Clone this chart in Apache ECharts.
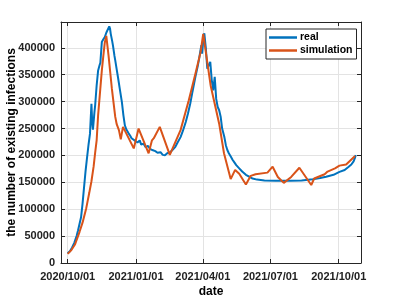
<!DOCTYPE html>
<html>
<head>
<meta charset="utf-8">
<script src="https://cdn.jsdelivr.net/npm/echarts@6/dist/echarts.min.js"></script>
<style>
html,body{margin:0;padding:0;background:#fff;}
#chart{width:399px;height:299px;}
</style>
</head>
<body>
<div id="chart"></div>
<script>
// x values are days since 2020/10/01
const tickDays = [0, 92, 182, 273, 365];
const tickLabels = ['2020/10/01', '2021/01/01', '2021/04/01', '2021/07/01', '2021/10/01'];
const yTicks = [0, 50000, 100000, 150000, 200000, 250000, 300000, 350000, 400000];

const realDays = [0,3,6,9,12,14,16,18,20,22,24,26,28,30,32,33,34,36,37,39,41,43,44,46,48,50,52,54,56,57,58,60,61,63,64,66,68,70,73,75,77,79,82,84,86,88,91,94,97,99,102,105,108,111,114,118,121,125,128,131,134,138,141,145,148,152,155,159,162,165,168,172,175,177,180,181,183,184,186,188,190,192,194,196,198,200,202,204,206,208,211,213,215,217,220,222,224,227,231,235,240,245,249,255,265,280,300,315,330,340,348,358,366,373,378,382,385,387,388];
const realValues = [18000,22000,29000,38000,50000,61000,64000,85000,110000,140000,170000,195000,219000,240000,296000,262000,248000,280000,293000,330000,358000,368000,372000,411000,416000,420000,428000,425000,440000,436000,426000,412000,404000,385000,377000,360000,343000,325000,299000,275000,256000,248000,241000,237000,232000,234000,227000,224000,228000,220000,222000,215000,218000,212000,210000,208000,205000,206000,201000,200500,204000,206000,210000,216000,224000,234000,245000,262000,278000,296000,318000,346000,365000,380000,405000,389000,420000,427000,400000,361000,368000,374000,340000,321000,346000,305000,290000,284000,272000,250000,234000,219000,210000,204000,197000,192000,188000,182000,176000,170000,164000,160000,157000,155000,153500,153000,153000,153500,155500,158000,160500,164000,169500,173000,178500,183000,189000,196000,200500];

const simDays = [0,5,10,16,20,25,29,32,35,37,39,41,44,46,48,50,52,55,59.5,64,66,69,71.5,74.5,89,95.5,109,113.5,116,124,137.5,152,163,172,179,182.5,192.5,204,210.5,219.5,225.5,231,240,246.5,253,269,276,283,291,301,312,328,332,346,350,360,366,375,387];
const simValues = [17000,24000,35000,58000,75000,102000,130000,152000,180000,205000,228000,275000,325000,358000,385000,410000,422000,386000,324000,272000,258000,247000,230000,253000,213000,250000,204000,228000,232000,253000,201000,247000,302000,352000,392000,426000,330000,259000,204000,156000,173000,166000,146000,162000,165000,168000,179000,160000,149000,160000,177000,145000,157000,165000,170000,176000,181000,183000,199000];

const pairs = (xs, ys) => xs.map((x, i) => [x, ys[i]]);

const FONT = '"Liberation Sans", Arial, Helvetica, sans-serif';
const AX = '#262626';
const GRID = '#e3e3e3';

const chart = echarts.init(document.getElementById('chart'), null, {renderer: 'canvas'});
const xCommon = {
  type: 'value', min: -9, max: 395,
  axisTick: {show: true, inside: true, length: 4, customValues: tickDays, lineStyle: {color: AX}},
  axisLine: {show: true, onZero: false, lineStyle: {color: AX, width: 1}},
};
const yCommon = {
  type: 'value', min: 0, max: 448000, interval: 50000,
  axisTick: {show: true, inside: true, length: 4, lineStyle: {color: AX}},
  axisLine: {show: true, onZero: false, lineStyle: {color: AX, width: 1}},
};
chart.setOption({
  animation: false,
  backgroundColor: '#ffffff',
  textStyle: {fontFamily: FONT},
  grid: {left: 61, top: 22, right: 38, bottom: 36, containLabel: false, outerBoundsMode: 'none'},
  legend: {
    orient: 'vertical', left: 266, top: 29,
    data: ['real', 'simulation'],
    icon: 'rect', itemWidth: 28, itemHeight: 2.5, itemGap: 2,
    padding: [3, 4, 3, 3],
    backgroundColor: '#ffffff', borderColor: AX, borderWidth: 1,
    textStyle: {fontFamily: FONT, fontSize: 10.5, fontWeight: 'bold', color: '#000', padding: [0, 0, 0, -2]}
  },
  xAxis: [
    Object.assign({}, xCommon, {
      position: 'bottom',
      name: 'date', nameLocation: 'middle', nameGap: 23, nameMoveOverlap: false,
      nameTextStyle: {fontFamily: FONT, fontSize: 12, fontWeight: 'bold', color: '#000'},
      splitLine: {show: true, lineStyle: {color: GRID, width: 1}},
      axisLabel: {
        show: true, customValues: tickDays, margin: 8,
        fontFamily: FONT, fontSize: 11, fontWeight: 'bold', color: '#222',
        formatter: v => { const i = tickDays.indexOf(v); return i >= 0 ? tickLabels[i] : ''; }
      }
    }),
    Object.assign({}, xCommon, {
      position: 'top', splitLine: {show: false}, axisLabel: {show: false}
    })
  ],
  yAxis: [
    Object.assign({}, yCommon, {
      position: 'left',
      name: 'the number of existing infections', nameLocation: 'middle', nameGap: 49, nameMoveOverlap: false,
      nameTextStyle: {fontFamily: FONT, fontSize: 12, fontWeight: 'bold', color: '#000', verticalAlign: 'middle'},
      splitLine: {show: true, lineStyle: {color: GRID, width: 1}},
      axisLabel: {
        show: true, margin: 6, showMaxLabel: false,
        fontFamily: FONT, fontSize: 11, fontWeight: 'bold', color: '#222',
        formatter: v => (yTicks.indexOf(v) >= 0 ? String(v) : '')
      }
    }),
    Object.assign({}, yCommon, {
      position: 'right', splitLine: {show: false}, axisLabel: {show: false}
    })
  ],
  series: [
    {
      name: 'real', type: 'line', xAxisIndex: 0, yAxisIndex: 0,
      data: pairs(realDays, realValues),
      showSymbol: false, symbol: 'none',
      lineStyle: {color: '#0072BD', width: 2},
      itemStyle: {color: '#0072BD'}
    },
    {
      name: 'simulation', type: 'line', xAxisIndex: 0, yAxisIndex: 0,
      data: pairs(simDays, simValues),
      showSymbol: false, symbol: 'none',
      lineStyle: {color: '#D95319', width: 2},
      itemStyle: {color: '#D95319'}
    }
  ]
});
</script>
</body>
</html>
